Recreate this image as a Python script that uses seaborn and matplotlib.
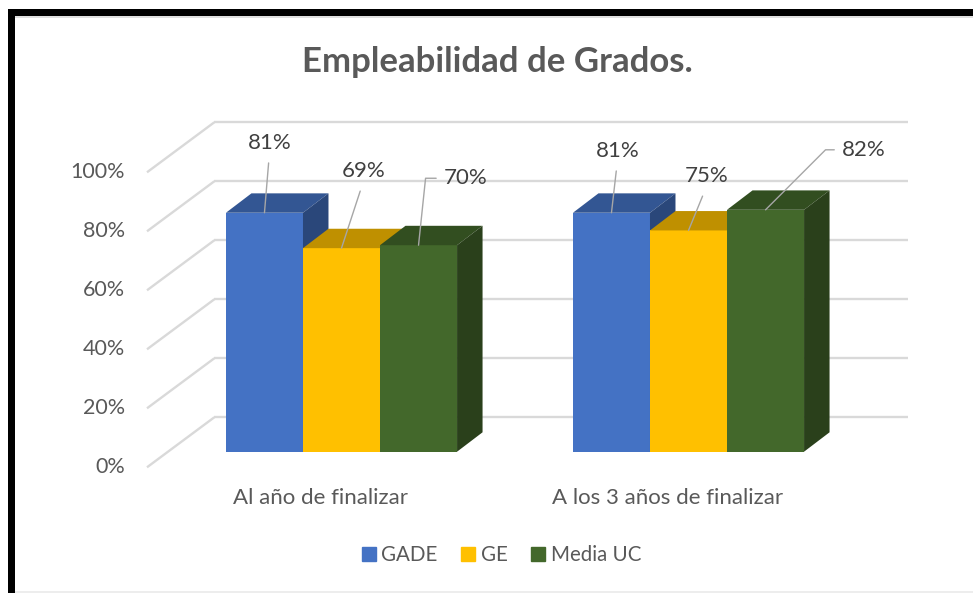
import numpy as np
import pandas as pd
import matplotlib
matplotlib.use("Agg")
import matplotlib.pyplot as plt
import matplotlib.colors as mcolors
from matplotlib.patches import Polygon, Rectangle
from matplotlib.lines import Line2D
import seaborn as sns

# ---- data ----
periodos = ["Al año de finalizar", "A los 3 años de finalizar"]
series = ["GADE", "GE", "Media UC"]
gade = [81, 81]
ge = [69, 75]
media_uc = [70, 82]
y_ticks = [0, 20, 40, 60, 80, 100]
tick_labels = ["0%", "20%", "40%", "60%", "80%", "100%"]
colores = ["#4472C4", "#FFC000", "#43682B"]

# where the data labels sit (points, from the top front centre of each bar)
label_offsets = {
    "GADE": [(3.6, 50.4), (4.3, 44.6)],
    "GE": [(15.8, 55.4), (13.0, 38.9)],
    "Media UC": [(33.8, 48.2), (70.6, 43.2)],
}
elbow = {"GADE": False, "GE": False, "Media UC": True}
elbow_angle = [84, 45]

df = pd.DataFrame({
    "periodo": periodos * 3,
    "serie": np.repeat(series, len(periodos)),
    "valor": gade + ge + media_uc,
})

sns.set_theme(style="white")
plt.rcParams["font.family"] = ["Lato", "DejaVu Sans"]

W, H = 973, 593
fig = plt.figure(figsize=(W / 100, H / 100), dpi=100)
ax = fig.add_axes([0, 0, 1, 1])

sns.barplot(data=df, x="periodo", y="valor", hue="serie", order=periodos,
            hue_order=series, palette=colores, saturation=1, width=0.666,
            errorbar=None, legend=False, ax=ax)

# pixel <-> data mapping of the oblique "3D" view
px_unit, px_pct = 347.0, 2.95
ax.set_xlim(-341.5 / px_unit, (W - 341.5) / px_unit)
ax.set_ylim((451.7 - H) / px_pct, 451.7 / px_pct)
ax.axis("off")


def depth(dx_px, dy_px):
    return dx_px / px_unit, dy_px / px_pct


bx, by = depth(46.3, 34.4)     # back wall
fx, fy = depth(-21.0, -15.6)   # front edge of side wall
dbx, dby = depth(25.5, 19.4)   # bar depth
grid_c = "#D9D9D9"

for v in y_ticks:
    ax.plot([-0.5 + bx, 1.5 + bx], [v + by, v + by], color=grid_c, lw=1.7,
            zorder=1, solid_capstyle="butt")
    ax.plot([-0.5 + fx, -0.5 + bx], [v + fy, v + by], color=grid_c, lw=1.7,
            zorder=1, solid_capstyle="butt")
for v, lbl in zip(y_ticks, tick_labels):
    ax.annotate(lbl, xy=(-0.5 + fx, v + fy), xytext=(-16, 0),
                textcoords="offset points", ha="right", va="center",
                fontsize=15.5, color="#595959")

# top and side faces built from seaborn's bars, drawn left to right
bars = sorted(ax.patches, key=lambda p: p.get_x())
for k, p in enumerate(bars):
    x0, w, h = p.get_x(), p.get_width(), p.get_height()
    base = np.array(mcolors.to_rgb(p.get_facecolor()))
    z = 3 + k
    p.set_zorder(z)
    p.set_edgecolor("none")
    top = Polygon([(x0, h), (x0 + w, h), (x0 + w + dbx, h + dby), (x0 + dbx, h + dby)],
                  closed=True, facecolor=base * 0.75, edgecolor="none", zorder=z)
    side = Polygon([(x0 + w, 0), (x0 + w + dbx, dby), (x0 + w + dbx, h + dby), (x0 + w, h)],
                   closed=True, facecolor=base * 0.62, edgecolor="none", zorder=z)
    ax.add_patch(top)
    ax.add_patch(side)

# data labels with leader lines
for j, serie in enumerate(series):
    for i, p in enumerate(ax.containers[j]):
        v = p.get_height()
        xc = p.get_x() + p.get_width() / 2
        if elbow[serie]:
            arrow = dict(arrowstyle="-", color="#A6A6A6", lw=1, shrinkA=3, shrinkB=0,
                         relpos=(0, 0.5),
                         connectionstyle=f"angle,angleA=0,angleB={elbow_angle[i]},rad=0")
        else:
            arrow = dict(arrowstyle="-", color="#A6A6A6", lw=1, shrinkA=5, shrinkB=0,
                         relpos=(0.5, 0))
        ax.annotate(f"{v:.0f}%", xy=(xc, v), xytext=label_offsets[serie][i],
                    textcoords="offset points", ha="center", va="center",
                    fontsize=16, color="#404040", arrowprops=arrow, zorder=20)

# category labels sit under the front edge of the floor
for i, periodo in enumerate(periodos):
    ax.text(i + fx, fy - 12.4, periodo, ha="center", va="baseline",
            fontsize=16, color="#595959")

handles = [Line2D([], [], marker="s", ls="", markersize=10.5, color=c) for c in colores]
fig.legend(handles, series, loc="center", bbox_to_anchor=(501 / W, 1 - 555 / H),
           ncol=3, frameon=False, handletextpad=0.2, columnspacing=1.1,
           handlelength=0.8, fontsize=14.8, labelcolor="#595959")

fig.text(497 / W, 1 - 72 / H, "Empleabilidad de Grados.", ha="center", va="baseline",
         fontsize=25, fontweight="bold", color="#595959")

# black frame (top and left), thin grey edges
fig.add_artist(Rectangle((8 / W, 0), 7 / W, (H - 9) / H, transform=fig.transFigure,
                         facecolor="black", edgecolor="none"))
fig.add_artist(Rectangle((8 / W, 1 - 16 / H), 1, 7 / H, transform=fig.transFigure,
                         facecolor="black", edgecolor="none"))
fig.add_artist(Rectangle((15 / W, 1 - 18 / H), 1, 2 / H, transform=fig.transFigure,
                         facecolor="#E0E0E0", edgecolor="none"))
fig.add_artist(Rectangle((15 / W, 0), 1, 2 / H, transform=fig.transFigure,
                         facecolor="#EDEDED", edgecolor="none"))

fig.savefig("out.png", dpi=100)
